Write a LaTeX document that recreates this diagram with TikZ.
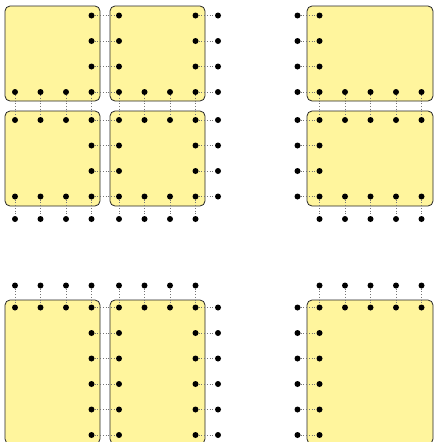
\documentclass[tikz,border=0pt]{standalone}
\definecolor{panelfill}{HTML}{FFF59D}
\pgfdeclarelayer{boxes}
\pgfdeclarelayer{links}
\pgfsetlayers{boxes,links,main}
\tikzset{
  dot/.style={circle,fill=black,inner sep=0pt,minimum size=6pt},
  panel/.style={draw=black!85,line width=0.8pt,fill=panelfill,rounded corners=5pt,inner sep=0pt},
  link/.style={draw=black!55,dotted,line width=0.7pt},
}
\begin{document}
\begin{tikzpicture}[x=1pt,y=-1pt]
\useasboundingbox (0,0) rectangle (434,442);
\clip (0,0) rectangle (434,442);
% panels
\begin{pgfonlayer}{boxes}
\node[panel,minimum width=95pt,minimum height=95pt] (A) at (52.5,53.5) {};
\node[panel,minimum width=95pt,minimum height=95pt] (B) at (157.5,53.5) {};
\node[panel,minimum width=95pt,minimum height=95pt] (C) at (52.5,158.5) {};
\node[panel,minimum width=95pt,minimum height=95pt] (D) at (157.5,158.5) {};
\node[panel,minimum width=126pt,minimum height=95pt] (E) at (370,53.5) {};
\node[panel,minimum width=126pt,minimum height=95pt] (F) at (370,158.5) {};
\node[panel,minimum width=95pt,minimum height=144pt] (G) at (52.5,372) {};
\node[panel,minimum width=95pt,minimum height=144pt] (H) at (157.5,372) {};
\node[panel,minimum width=126pt,minimum height=144pt] (I) at (370,372) {};
\end{pgfonlayer}
% ---------- top-left group ----------
\def\TLx#1{\ifcase#1\or15\or40.5\or66\or91.5\or119\or144.5\or170\or195.5\or218\fi}
\def\TLy#1{\ifcase#1\or15.5\or41\or66.5\or92\or120\or145.5\or171\or196.5\or219\fi}
\foreach \r in {1,2,3,6,7} \foreach \c in {4,5,8,9}
  \node[dot] (tl-\c-\r) at (\TLx{\c},\TLy{\r}) {};
\foreach \r in {4,5,8} \foreach \c in {1,...,9}
  \node[dot] (tl-\c-\r) at (\TLx{\c},\TLy{\r}) {};
\foreach \c in {1,...,8}
  \node[dot] (tl-\c-9) at (\TLx{\c},\TLy{9}) {};
\begin{pgfonlayer}{links}
\foreach \r in {1,...,8} {
  \draw[link] (tl-4-\r) -- (tl-5-\r);
  \draw[link] (tl-8-\r) -- (tl-9-\r);
}
\foreach \c in {1,...,8} {
  \draw[link] (tl-\c-4) -- (tl-\c-5);
  \draw[link] (tl-\c-8) -- (tl-\c-9);
}
\end{pgfonlayer}
% ---------- top-right group ----------
\def\TRx#1{\ifcase#1 297.5\or319.5\or345\or370.5\or396\or421.5\fi}
\foreach \r in {1,2,3,6,7} \foreach \c in {0,1}
  \node[dot] (tr-\c-\r) at (\TRx{\c},\TLy{\r}) {};
\foreach \r in {4,5,8} \foreach \c in {0,...,5}
  \node[dot] (tr-\c-\r) at (\TRx{\c},\TLy{\r}) {};
\foreach \c in {1,...,5}
  \node[dot] (tr-\c-9) at (\TRx{\c},\TLy{9}) {};
\begin{pgfonlayer}{links}
\foreach \r in {1,...,8}
  \draw[link] (tr-0-\r) -- (tr-1-\r);
\foreach \c in {1,...,5} {
  \draw[link] (tr-\c-4) -- (tr-\c-5);
  \draw[link] (tr-\c-8) -- (tr-\c-9);
}
\end{pgfonlayer}
% ---------- bottom-left group ----------
\def\By#1{\ifcase#1 285.5\or307.5\or333\or358.5\or384\or409.5\or435\fi}
\foreach \c in {1,...,8}
  \node[dot] (bl-\c-0) at (\TLx{\c},\By{0}) {};
\foreach \c in {1,...,9}
  \node[dot] (bl-\c-1) at (\TLx{\c},\By{1}) {};
\foreach \r in {2,...,6} \foreach \c in {4,5,8,9}
  \node[dot] (bl-\c-\r) at (\TLx{\c},\By{\r}) {};
\begin{pgfonlayer}{links}
\foreach \c in {1,...,8}
  \draw[link] (bl-\c-0) -- (bl-\c-1);
\foreach \r in {1,...,6} {
  \draw[link] (bl-4-\r) -- (bl-5-\r);
  \draw[link] (bl-8-\r) -- (bl-9-\r);
}
\end{pgfonlayer}
% ---------- bottom-right group ----------
\foreach \c in {1,...,5}
  \node[dot] (br-\c-0) at (\TRx{\c},\By{0}) {};
\foreach \c in {0,...,5}
  \node[dot] (br-\c-1) at (\TRx{\c},\By{1}) {};
\foreach \r in {2,...,6} \foreach \c in {0,1}
  \node[dot] (br-\c-\r) at (\TRx{\c},\By{\r}) {};
\begin{pgfonlayer}{links}
\foreach \c in {1,...,5}
  \draw[link] (br-\c-0) -- (br-\c-1);
\foreach \r in {1,...,6}
  \draw[link] (br-0-\r) -- (br-1-\r);
\end{pgfonlayer}
\end{tikzpicture}
\end{document}
